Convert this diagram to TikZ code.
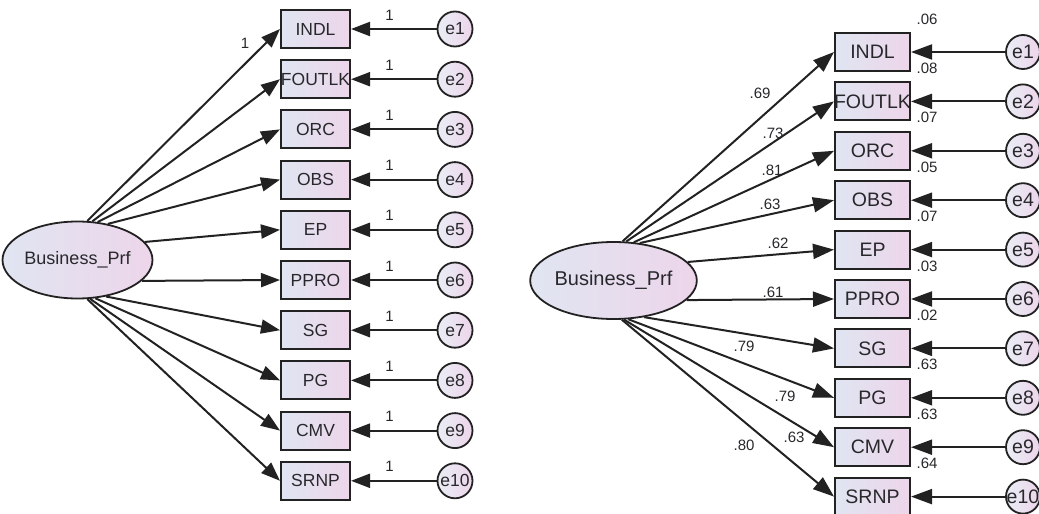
\documentclass[tikz,border=0pt]{standalone}
\usepackage{fontspec}
\setmainfont{Liberation Sans}
\usetikzlibrary{arrows.meta,shapes.geometric}

\definecolor{amosblue}{RGB}{224,229,241}
\definecolor{amospink}{RGB}{237,213,234}
\definecolor{amosline}{RGB}{34,34,34}
\definecolor{amostext}{RGB}{40,40,44}

\begin{document}
\begin{tikzpicture}[x=1pt,y=-1pt,
  obs/.style={draw=amosline,line width=2pt,rectangle,inner sep=0pt,
    left color=amosblue,right color=amospink,text=amostext},
  lat/.style={draw=amosline,line width=1.8pt,ellipse,inner sep=0pt,
    left color=amosblue,right color=amospink,text=amostext},
  err/.style={draw=amosline,line width=1.8pt,circle,inner sep=0pt,
    left color=amosblue!70!white,right color=amospink,text=amostext},
  load/.style={line width=2pt,amosline,-{Triangle[length=19pt,width=14pt]}},
  est/.style={font=\fontsize{15}{15}\selectfont,text=amostext,inner sep=1pt}]
  \useasboundingbox (0,0) rectangle (1039,514);

  % unstandardized model
  \node[lat,minimum width=139pt,minimum height=77pt,font=\fontsize{18}{20}\selectfont] (F) at (77.5,260) {Business\_Prf};
  \foreach \v/\a [count=\i] in {INDL/76,FOUTLK/69,ORC/62,OBS/50,EP/15,PPRO/342,SG/308,PG/295,CMV/288,SRNP/284}{
    \node[obs,minimum width=69pt,minimum height=38pt,font=\fontsize{17.5}{20}\selectfont] (b\i) at (315.5,{29+(\i-1)*50.2}) {\makebox[0pt]{\v}};
    \node[err,minimum size=35pt,font=\fontsize{17.5}{20}\selectfont] (e\i) at (455,{29+(\i-1)*50.2}) {\makebox[0pt]{e\i}};
    \draw[load] (F.\a) -- (b\i.west);
    \draw[load] (e\i) -- (b\i) node[est,pos=0.55,above=7pt] (one\i) {1};
  }
  \node[est] (fix) at (245,43) {1};

  % standardized model
  \node[lat,minimum width=153pt,minimum height=77pt,font=\fontsize{20}{22}\selectfont] (G) at (613.5,280.5) {Business\_Prf};
  \foreach \v/\a/\l/\lx/\ly/\r [count=\i] in {INDL/77.5/.69/760/93/.06,FOUTLK/72/.73/773/133/.08,
      ORC/62/.81/772/170/.07,OBS/55/.63/770/204/.05,EP/14/.62/778/243/.07,PPRO/345/.61/773/292/.03,
      SG/310/.79/744/346/.02,PG/291/.79/785/396/.63,CMV/285/.63/794/437/.63,SRNP/282.5/.80/744/445/.64}{
    \node[obs,minimum width=75pt,minimum height=38pt,font=\fontsize{19.5}{22}\selectfont] (rb\i) at (872.5,{52+(\i-1)*49.4}) {\makebox[0pt]{\v}};
    \node[err,minimum size=34pt,font=\fontsize{19.5}{22}\selectfont] (re\i) at (1023,{52+(\i-1)*49.4}) {\makebox[0pt]{e\i}};
    \draw[load,-{Triangle[length=21pt,width=15pt]}] (G.\a) -- (rb\i.west);
    \draw[load,-{Triangle[length=21pt,width=15pt]}] (re\i) -- (rb\i);
    \node[est] (w\i) at (\lx,\ly) {\l};
    \node[est] (r\i) at ([shift={(16,-13)}]rb\i.north east) {\r};
  }
\end{tikzpicture}
\end{document}
